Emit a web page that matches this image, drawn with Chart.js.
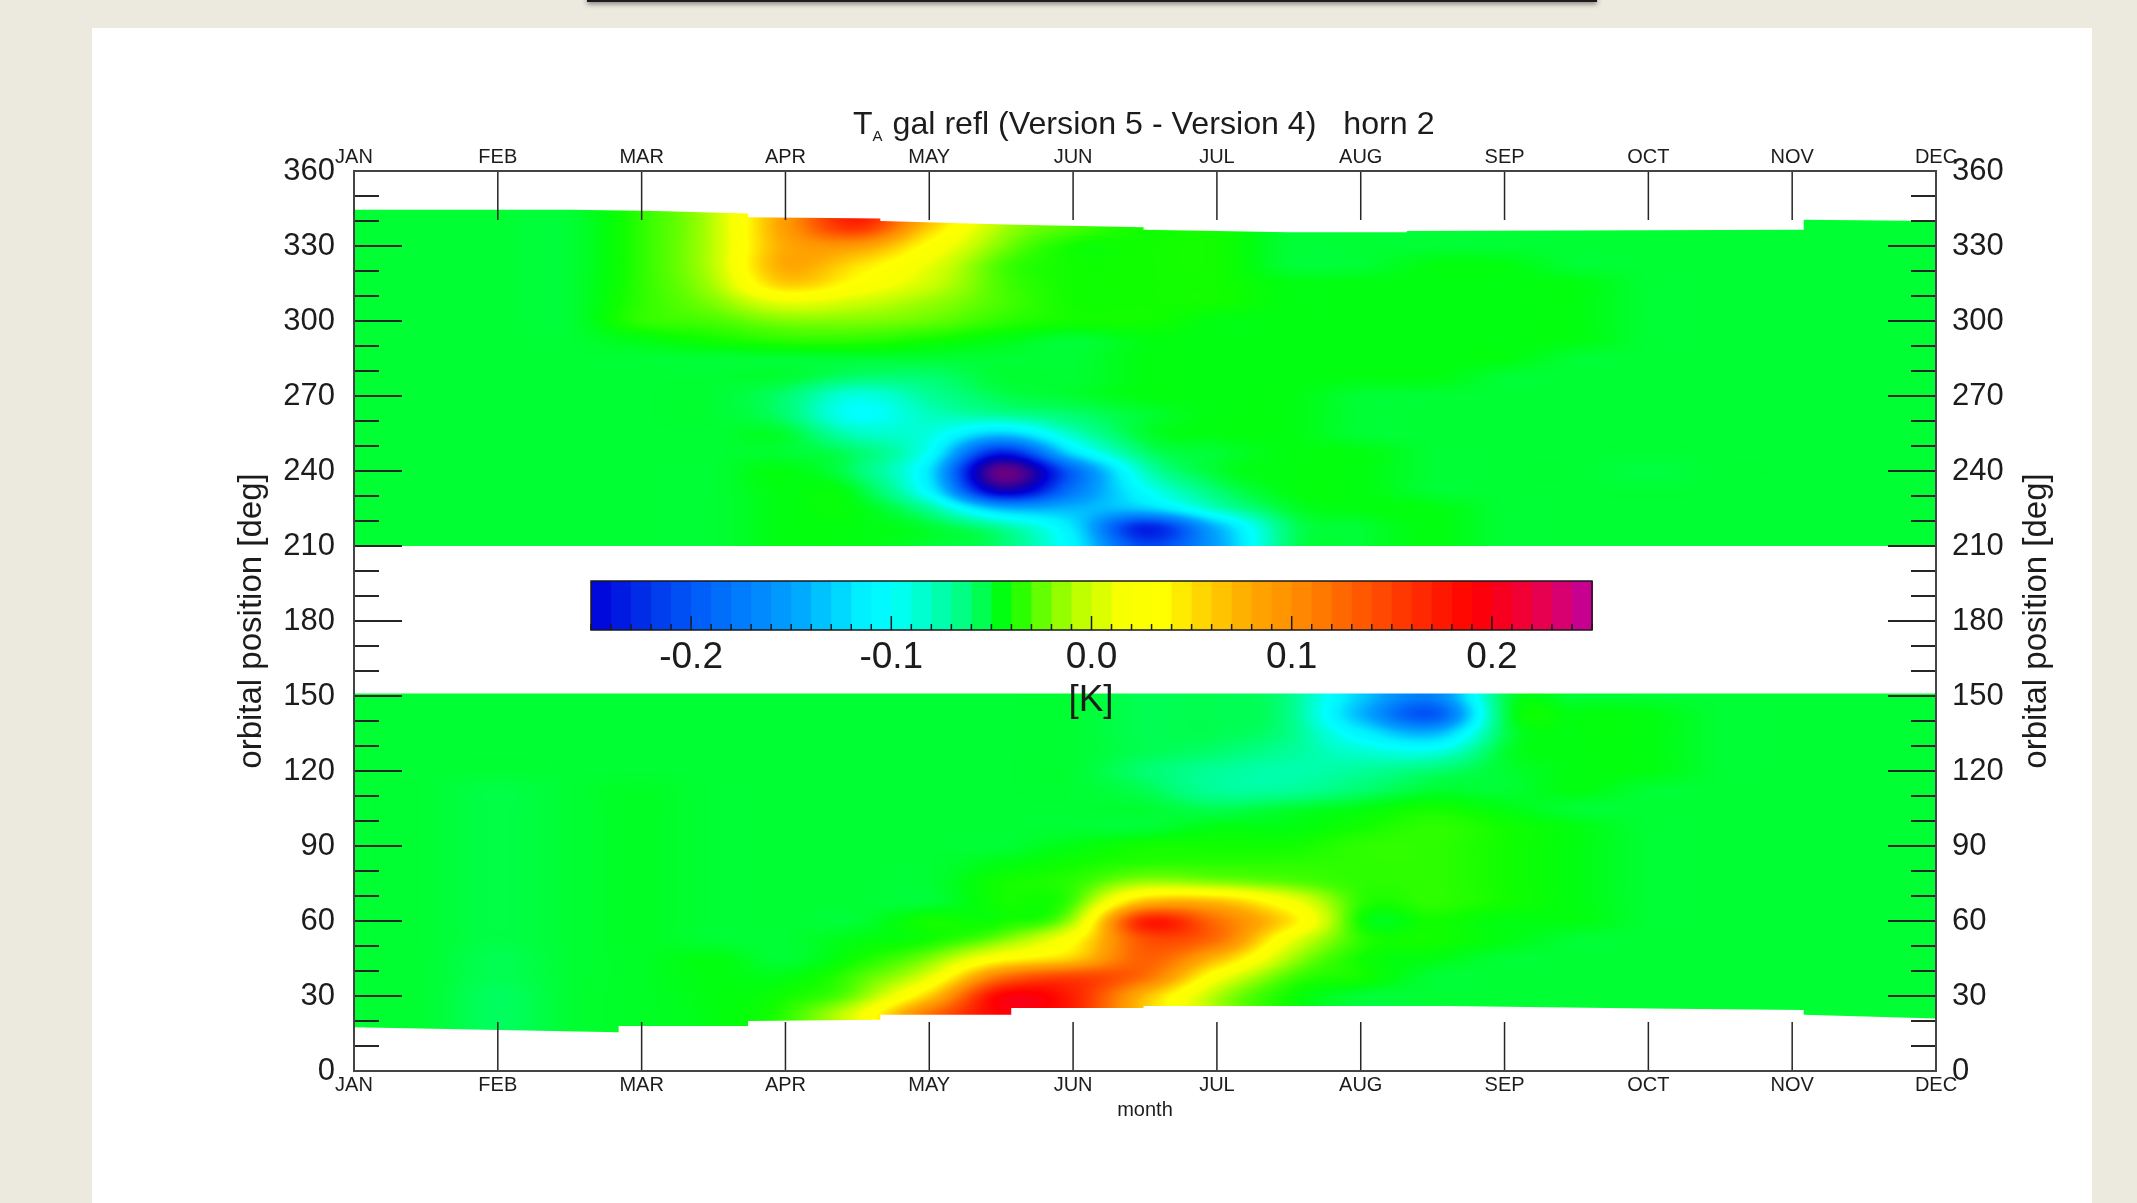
<!DOCTYPE html>
<html lang="en">
<head>
<meta charset="UTF-8" />
<title>T_A gal refl (Version 5 - Version 4) horn 2</title>
<script src="https://cdn.jsdelivr.net/npm/chart.js"></script>
<style>
  html,body{margin:0;padding:0;width:2137px;height:1203px;overflow:hidden;background:#ece9df}
  #panel{position:absolute;left:92px;top:28px;width:2000px;height:1175px;background:#fff}
  #bar{position:absolute;left:587px;top:-4px;width:1010px;height:6px;background:#1c1c1c;box-shadow:0 2px 5px rgba(0,0,0,.45)}
  #wrap{position:absolute;left:0;top:0;filter:blur(.6px)}
  canvas{display:block}
</style>
</head>
<body>
<div id="panel"></div>
<div id="bar"></div>
<div id="wrap"><canvas id="chart" width="2137" height="1203"></canvas></div>

<script>
/* ---- data ---- */
const months = ["JAN","FEB","MAR","APR","MAY","JUN","JUL","AUG","SEP","OCT","NOV","DEC"];
// columns every half month, x in months after JAN
const monthCols = [0,.5,1,1.5,2,2.5,3,3.5,4,4.5,5,5.5,6,6.5,7,7.5,8,8.5,9,9.5,10,10.5,11];
const upperRows = [345,337.5,330,322.5,315,307.5,300,292.5,285,277.5,270,262.5,255,247.5,240,232.5,225,217.5,210];
const lowerRows = [150,142.5,135,127.5,120,112.5,105,97.5,90,82.5,75,67.5,60,52.5,45,37.5,30,22.5,15];

// difference in hundredths of a kelvin
const upperBand = [
  [-5,-5,-5,-5,-3.5,-.5, 9,18,9, 0,-3,-4,-4,-5,-5,-5,-5,-5,-5,-5,-5,-5,-5],
  [-5,-5,-5,-5,-3.5,-.5, 9,16, 6,-1,-3,-4,-4,-5,-5,-5,-5,-5,-5,-5,-5,-5,-5],
  [-5,-5,-5,-5,-3.5,-.5, 8,9, 3,-2,-4,-4,-4,-5,-5,-5,-5,-5,-5,-5,-5,-5,-5],
  [-5,-5,-5,-5,-3.5,-.5, 8, 5, 1,-3,-4,-4,-4,-5,-5,-4.5,-4.5,-5,-5,-5,-5,-5,-5],
  [-5,-5,-5,-5,-3.5,-1, 6, 3, 0,-3,-4,-4,-4,-4.5,-4.5,-4.5,-4.5,-4.5,-5,-5,-5,-5,-5],
  [-5,-5,-5,-5,-3.5,-2, 1, 0,-1.5,-3,-4,-4,-4,-4.5,-4.5,-4.5,-4.5,-4.5,-5,-5,-5,-5,-5],
  [-5,-5,-5,-5,-3.5,-3,-2,-2,-2.5,-3.5,-4,-4,-4.5,-4.5,-4.5,-4.5,-4.5,-4.5,-5,-5,-5,-5,-5],
  [-5,-5,-5,-5,-4.5,-4,-3.5,-3.5,-4,-4.5,-5,-4.5,-4.5,-4.5,-4.5,-4.5,-4.5,-4.5,-5,-5,-5,-5,-5],
  [-5,-5,-5,-5,-5,-5,-5,-5,-5,-5,-5,-4.5,-4.5,-4.5,-4.5,-4.5,-4.5,-5,-5,-5,-5,-5,-5],
  [-5,-5,-5,-5,-5,-5,-5,-6,-6,-5,-5,-4.5,-4.5,-4.5,-4.5,-4.5,-5,-5,-5,-5,-5,-5,-5],
  [-5,-5,-5,-5,-5,-5,-6,-9,-7,-5.5,-5,-4.5,-4.5,-4.5,-5,-5,-5,-5,-5,-5,-5,-5,-5],
  [-5,-5,-5,-5,-5,-5,-6,-10,-8,-7,-6,-5,-4.5,-4.5,-5,-5,-5,-5,-5,-5,-5,-5,-5],
  [-5,-5,-5,-5,-5,-5,-5,-8,-9,-13,-8,-5,-4.5,-4.5,-5,-5,-5,-5,-5,-5,-5,-5,-5],
  [-5,-5,-5,-5,-5,-5,-5,-6,-10,-23,-12,-6,-5,-4.5,-4.5,-5,-5,-5,-5,-5,-5,-5,-5],
  [-5,-5,-5,-5,-5,-5,-4.5,-6,-12,-31,-19,-8,-5,-4.5,-4.5,-5,-5,-5,-5.2,-5,-5,-5,-5],
  [-5,-5,-5,-5,-5,-5,-4.5,-5,-11,-27,-18,-10,-6,-4.5,-4.5,-5,-5,-5,-5,-5,-5,-5,-5],
  [-5,-5,-5,-5,-5,-5,-4.5,-4.5,-7,-14,-14,-13,-8,-5,-4.5,-4.5,-5,-5,-5,-5,-5,-5,-5],
  [-5,-5,-5,-5,-5,-5,-4.5,-4.5,-5,-7,-12,-23,-14,-6,-5,-4.5,-5,-5,-5,-5,-5,-5,-5],
  [-5,-5,-5,-5,-5,-5,-4.5,-4.5,-5,-6,-11,-21,-15,-6,-5,-4.5,-5,-5,-5,-5,-5,-5,-5]
];
const lowerBand = [
  [-5,-5,-5,-5,-5,-5,-5,-5,-5,-5,-5,-5.5,-5.5,-6.5,-13,-17,-5.5,-5,-5,-5,-5,-5,-5],
  [-5,-5,-5,-5,-5,-5,-5,-5,-5,-5,-5,-5.5,-5.5,-6.5,-14,-20,-5.5,-4.5,-4.5,-5,-5,-5,-5],
  [-5,-5,-5,-5,-5,-5,-5,-5,-5,-5,-5,-5.5,-5.5,-6.5,-11,-14,-5.5,-4.5,-4.5,-5,-5,-5,-5],
  [-5,-5,-5,-5,-5,-5,-5,-5,-5,-5,-5,-5.5,-6,-7,-8.5,-9,-5,-4.5,-4.5,-5,-5,-5,-5],
  [-5,-5,-5,-5,-5,-5,-5,-5,-5,-5,-5,-6,-7,-7.5,-7,-6,-5,-4.5,-4.5,-5,-5,-5,-5],
  [-5,-5,-5.3,-5,-4.8,-5,-5,-5,-5,-5,-5,-5.5,-7,-7,-6,-5,-5,-4.5,-5,-5,-5,-5,-5],
  [-5,-5,-5.3,-5,-4.8,-5,-5,-5,-5,-5,-5,-5,-5.5,-5,-4.5,-4,-4.5,-5,-5,-5,-5,-5,-5],
  [-5,-5,-5.3,-5,-4.8,-5,-5,-5,-5,-5,-5,-5,-4.5,-4.5,-4,-3.5,-4,-4.5,-5,-5,-5,-5,-5],
  [-5,-5,-5.3,-5,-4.8,-5,-5,-5,-5,-5,-4.5,-4,-4,-4,-3.5,-3.5,-4,-4.5,-5,-5,-5,-5,-5],
  [-5,-5,-5.3,-5,-4.8,-5,-5,-5,-5,-4.5,-4,-3.5,-3.5,-3.5,-3.5,-3.5,-4,-4.5,-5,-5,-5,-5,-5],
  [-5,-5,-5.3,-5,-4.8,-5,-5,-5,-5,-4,-3.5,-1,-1.5,-2.5,-3.5,-3.5,-4,-4.5,-5,-5,-5,-5,-5],
  [-5,-5,-5.3,-5,-4.8,-5,-5,-5,-5,-4,-3,7,7,2,-3.5,-3.5,-4,-4.5,-5,-5,-5,-5,-5],
  [-5,-5,-5.3,-5,-4.8,-5,-5,-5,-4,-4,-1,17,12,5,-4,-4,-4.5,-4.5,-5,-5,-5,-5,-5],
  [-5,-5,-5.3,-5,-4.8,-5,-5,-4.5,-4,-2,3,14,12,1.5,-3.5,-4,-4.5,-5,-5,-5,-5,-5,-5],
  [-5,-5,-5.5,-5,-4.8,-4.5,-5,-4,-2,3,6,13,7,-1,-4,-4.5,-5,-5,-5,-5,-5,-5,-5],
  [-5,-5,-5.5,-5,-4.8,-4.5,-4.5,-3,1,12,15,12,2,-3,-4,-5,-5,-5,-5,-5,-5,-5,-5],
  [-5,-5,-5.7,-5,-4.8,-4.5,-4,-2,6,19,17,7,-1,-4,-5,-5,-5,-5,-5,-5,-5,-5,-5],
  [-5,-5,-5.7,-5,-4.8,-4.5,-3.5,1,12,19,17,6,-1,-4,-5,-5,-5,-5,-5,-5,-5,-5,-5],
  [-5,-5,-5.7,-5,-4.8,-4.5,-3.5,1,12,19,17,6,-1,-4,-5,-5,-5,-5,-5,-5,-5,-5,-5]
];

// upper and lower limits of the measured swath, [month, degrees]
const topEdge = [[0,344.5],[1.5,344.5],[2.1,344],[2.74,343],[2.74,341.5],[3.66,341],[3.66,340],[4.6,338.5],[5.49,337.5],[5.49,336.5],[6.5,335.5],[7.32,335.5],[7.32,336],[10.08,336.5],[10.08,340.5],[11,340]];
const bottomEdge = [[0,17.5],[1.84,15.5],[1.84,18],[2.74,18],[2.74,20],[3.66,20.5],[3.66,22.5],[4.57,22.5],[4.57,25.2],[5.49,25.2],[5.49,26],[7.6,26],[9,25],[10.08,24.4],[10.08,22.5],[11,21]];
const upperLimit = 210, lowerLimit = 151;

// colour bar
const cbTicks = [-0.2,-0.1,0.0,0.1,0.2];
const cbStopValues = [-0.32,-0.27,-0.25,-0.2,-0.15,-0.115,-0.1,-0.08,-0.06,-0.05,-0.045,-0.04,-0.02,-0.005,0.015,0.035,0.06,0.08,0.1,0.13,0.16,0.19,0.22,0.25];
const cbStopColors = ["#7a0078","#1000b0","#0000d8","#0058f8","#00a0ff","#00f0ff","#00ffff","#00ffc0","#00ff70","#00ff33","#00ff10","#10ff00","#80ff00","#c0ff00","#f8ff00","#ffff00","#ffcc00","#ffa800","#ff9000","#ff6000","#ff3000","#ff0000","#f00040","#c000a0"];

/* ---- colours ---- */
const stopRgb = cbStopColors.map(c => [1,3,5].map(i => parseInt(c.substr(i,2),16)));
function colourFor(v){
  const n = cbStopValues.length;
  if(v <= cbStopValues[0]) return stopRgb[0];
  if(v >= cbStopValues[n-1]) return stopRgb[n-1];
  let i = 1;
  while(cbStopValues[i] < v) i++;
  const t = (v-cbStopValues[i-1])/(cbStopValues[i]-cbStopValues[i-1]);
  return stopRgb[i].map((c,k) => stopRgb[i-1][k]+(c-stopRgb[i-1][k])*t);
}

/* ---- smooth sampling of the grid for painting ---- */
function cr(a,b,c,d,t){
  return b+.5*t*(c-a+t*(2*a-5*b+4*c-d+t*(3*(b-c)+d-a)));
}
function sampleBand(rows, values, mo, deg){
  const cf = Math.min(mo*2, monthCols.length-1.001);
  const rf = Math.max(0, Math.min((rows[0]-deg)/7.5, rows.length-1.001));
  const c = Math.floor(cf), r = Math.floor(rf);
  const tx = cf-c, ty = rf-r;
  const at = (ri,ci) => values[Math.max(0,Math.min(rows.length-1,ri))][Math.max(0,Math.min(monthCols.length-1,ci))];
  const col = [];
  for(let k=-1;k<=2;k++) col.push(cr(at(r+k,c-1),at(r+k,c),at(r+k,c+1),at(r+k,c+2),tx));
  return cr(col[0],col[1],col[2],col[3],ty)/100;
}

/* ---- field + inward ticks + colour bar, everything placed through the scales ---- */
const fieldPlugin = {
  id:"field",
  beforeDatasetsDraw(chart){
    const {ctx, chartArea:a, scales:{x,y}} = chart;
    const w = Math.round(a.right-a.left), h = Math.round(a.bottom-a.top);
    const off = document.createElement("canvas");
    off.width = w; off.height = h;
    const octx = off.getContext("2d");
    const img = octx.createImageData(w,h);
    const d = img.data;
    for(let j=0;j<h;j++){
      const deg = y.getValueForPixel(a.top+j+.5);
      let rows = null, vals = null;
      if(deg >= upperLimit-1){ rows = upperRows; vals = upperBand; }
      else if(deg <= lowerLimit+1){ rows = lowerRows; vals = lowerBand; }
      if(!rows) continue;
      for(let i=0;i<w;i++){
        const mo = x.getValueForPixel(a.left+i+.5);
        const col = colourFor(sampleBand(rows,vals,mo,deg));
        const p = (j*w+i)*4;
        d[p]=col[0]; d[p+1]=col[1]; d[p+2]=col[2]; d[p+3]=255;
      }
    }
    octx.putImageData(img,0,0);

    ctx.save();
    ctx.beginPath();
    // upper swath
    ctx.moveTo(x.getPixelForValue(0), y.getPixelForValue(upperLimit));
    topEdge.forEach(p => ctx.lineTo(x.getPixelForValue(p[0]), y.getPixelForValue(p[1])));
    ctx.lineTo(x.getPixelForValue(11), y.getPixelForValue(upperLimit));
    ctx.closePath();
    // lower swath
    ctx.moveTo(x.getPixelForValue(0), y.getPixelForValue(lowerLimit));
    bottomEdge.forEach(p => ctx.lineTo(x.getPixelForValue(p[0]), y.getPixelForValue(p[1])));
    ctx.lineTo(x.getPixelForValue(11), y.getPixelForValue(lowerLimit));
    ctx.closePath();
    ctx.clip();
    ctx.drawImage(off,a.left,a.top);
    ctx.restore();
  },
  afterDatasetsDraw(chart){
    const {ctx, chartArea:a, scales:{x,y}} = chart;
    ctx.save();
    ctx.strokeStyle = "#262626";
    // month ticks, top and bottom
    ctx.lineWidth = 1.5;
    for(let m=1;m<months.length-1;m++){
      const px = x.getPixelForValue(m);
      ctx.beginPath();
      ctx.moveTo(px,a.top); ctx.lineTo(px,a.top+49);
      ctx.moveTo(px,a.bottom); ctx.lineTo(px,a.bottom-49);
      ctx.stroke();
    }
    // degree ticks, left and right
    ctx.lineWidth = 2;
    for(let v=10;v<360;v+=10){
      const py = y.getPixelForValue(v);
      const len = v%30===0 ? 48 : 25;
      ctx.beginPath();
      ctx.moveTo(a.left,py); ctx.lineTo(a.left+len,py);
      ctx.moveTo(a.right,py); ctx.lineTo(a.right-len,py);
      ctx.stroke();
    }
    ctx.restore();

    drawColourBar(ctx);
    drawTexts(chart);
  }
};

function drawColourBar(ctx){
  const left = 591, right = 1592, top = 581, bottom = 630;
  const cbX = v => left+(v+.25)/.5*(right-left);
  ctx.save();
  for(let v=-.25;v<.2499;v+=.01){
    const c = colourFor(v+.005);
    ctx.fillStyle = `rgb(${c.map(Math.round).join(",")})`;
    ctx.fillRect(cbX(v),top,cbX(v+.01)-cbX(v)+1,bottom-top);
  }
  ctx.strokeStyle = "#1a1a1a";
  ctx.lineWidth = 1.5;
  ctx.strokeRect(left,top,right-left,bottom-top);
  for(let k=-25;k<=25;k++){
    const px = cbX(k/100);
    const len = k%10===0 ? 14 : 6;
    ctx.beginPath();
    ctx.moveTo(px,bottom); ctx.lineTo(px,bottom-len);
    ctx.stroke();
  }
  ctx.fillStyle = "#1c1c1c";
  ctx.font = "37px 'Liberation Sans'";
  ctx.textAlign = "center";
  ctx.textBaseline = "middle";
  cbTicks.forEach(v => ctx.fillText(v.toFixed(1),cbX(v),658));
  ctx.fillText("[K]",1091,701);
  ctx.restore();
}

function drawTexts(chart){
  const ctx = chart.ctx;
  ctx.save();
  ctx.fillStyle = "#1c1c1c";
  ctx.textBaseline = "alphabetic";
  ctx.textAlign = "left";
  // title with subscript A
  let tx = 853;
  ctx.font = "32px 'Liberation Sans'";
  ctx.fillText("T",tx,134);
  tx += ctx.measureText("T").width;
  ctx.font = "15px 'Liberation Sans'";
  ctx.fillText("A",tx,141);
  tx += ctx.measureText("A").width+1;
  ctx.font = "32.2px 'Liberation Sans'";
  ctx.fillText(" gal refl (Version 5 - Version 4)   horn 2",tx,134);
  // right axis title reads upwards like the left one
  ctx.translate(2037,621);
  ctx.rotate(-Math.PI/2);
  ctx.textAlign = "center";
  ctx.textBaseline = "middle";
  ctx.font = "33px 'Liberation Sans'";
  ctx.fillText("orbital position [deg]",0,0);
  ctx.restore();
}

/* ---- chart ---- */
const fieldPoints = [];
[[upperRows,upperBand],[lowerRows,lowerBand]].forEach(([rows,vals]) => {
  rows.forEach((deg,r) => monthCols.forEach((mo,c) => fieldPoints.push({x:mo,y:deg,v:vals[r][c]/100})));
});

const monthAxis = (position,size,title) => ({
  type:"linear", position, min:0, max:11,
  afterFit:s => { s.height = size; },
  grid:{display:false,drawTicks:false},
  border:{display:true,color:"#444",width:2,z:1},
  title,
  ticks:{stepSize:1,padding:2,autoSkip:false,maxRotation:0,color:"#1c1c1c",
         font:{family:"'Liberation Sans'",size:20},
         callback:v => months[v]}
});
const degAxis = (position,size,padding,title) => ({
  type:"linear", position, min:0, max:360,
  afterFit:s => { s.width = size; },
  grid:{display:false,drawTicks:false},
  border:{display:true,color:"#444",width:2,z:1},
  title,
  ticks:{stepSize:30,padding,color:"#1c1c1c",
         font:{family:"'Liberation Sans'",size:31}}
});

new Chart(document.getElementById("chart"),{
  type:"scatter",
  data:{datasets:[{label:"T_A gal refl",data:fieldPoints,pointRadius:0,pointHoverRadius:0}]},
  options:{
    responsive:false,
    animation:false,
    events:[],
    layout:{padding:0},
    plugins:{legend:{display:false},tooltip:{enabled:false}},
    scales:{
      x:monthAxis("bottom",132,{display:true,text:"month",color:"#1c1c1c",
          font:{family:"'Liberation Sans'",size:20},padding:{top:0,bottom:81}}),
      x2:monthAxis("top",171,{display:false}),
      y:degAxis("left",354,19,{display:true,text:"orbital position [deg]",color:"#1c1c1c",
          font:{family:"'Liberation Sans'",size:33},padding:{top:232,bottom:0}}),
      y2:degAxis("right",201,16,{display:false})
    }
  },
  plugins:[fieldPlugin]
});
</script>
</body>
</html>
